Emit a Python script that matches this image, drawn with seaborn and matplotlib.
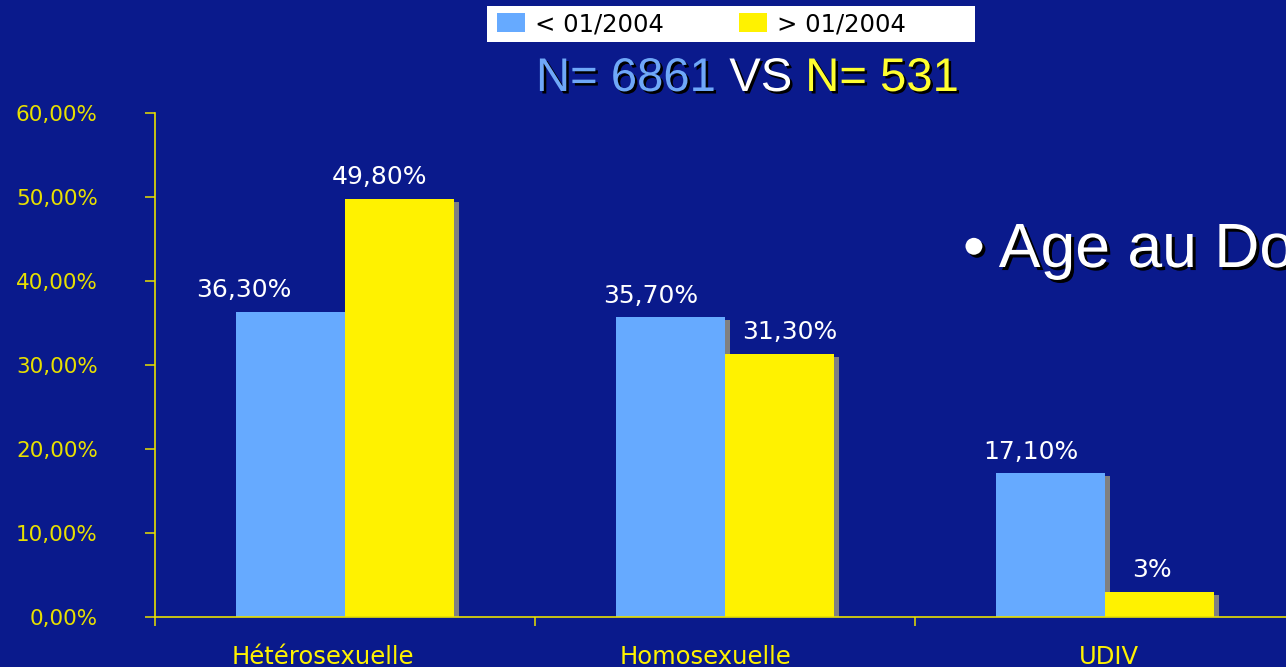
import matplotlib
matplotlib.use("Agg")
import matplotlib.pyplot as plt
import matplotlib.patheffects as pe
import matplotlib.transforms as mtransforms
from matplotlib.patches import Patch, Rectangle
from matplotlib.ticker import FixedLocator, FuncFormatter
import seaborn as sns
import pandas as pd

# Data
categories = ["Hétérosexuelle", "Homosexuelle", "UDIV"]
periods = ["< 01/2004", "> 01/2004"]
before_2004 = [36.3, 35.7, 17.1]
after_2004 = [49.8, 31.3, 3.0]
before_labels = ["36,30%", "35,70%", "17,10%"]
after_labels = ["49,80%", "31,30%", "3%"]
y_ticks = [0, 10, 20, 30, 40, 50, 60]

# Style
BG = "#0a1a8c"
BLUE = "#66aaff"
YELLOW = "#fff200"
AXIS_YELLOW = "#e8e000"
SHADOW = "#808080"

df = pd.DataFrame({
    "categorie": categories * 2,
    "periode": [periods[0]] * 3 + [periods[1]] * 3,
    "valeur": before_2004 + after_2004,
})

sns.set_theme(style="white")
plt.rcParams["font.family"] = ["DejaVu Sans"]

W, H = 1286, 667
fig = plt.figure(figsize=(W / 100, H / 100), dpi=100, facecolor=BG)
ax = fig.add_axes([155 / W, 50 / H, 1140 / W, 504 / H])
ax.set_facecolor(BG)

sns.barplot(data=df, x="categorie", y="valeur", hue="periode",
            order=categories, hue_order=periods,
            palette=[BLUE, YELLOW], saturation=1, width=0.574, gap=0,
            legend=False, ax=ax, linewidth=0)

# Drop shadow behind each bar
for p in ax.patches:
    p.set_path_effects([pe.SimplePatchShadow(offset=(3.6, -2.2),
                                             shadow_rgbFace=SHADOW, alpha=1),
                        pe.Normal()])

ax.set_xlim(-0.5, 2.5)
ax.set_ylim(0, 60)
ax.set_xlabel("")
ax.set_ylabel("")

# Axes, ticks
for side in ["top", "right"]:
    ax.spines[side].set_visible(False)
for side in ["left", "bottom"]:
    ax.spines[side].set_color(AXIS_YELLOW)
    ax.spines[side].set_linewidth(1.2)

ax.yaxis.set_major_locator(FixedLocator(y_ticks))
ax.yaxis.set_major_formatter(FuncFormatter(lambda v, _: f"{v:.2f}".replace(".", ",") + "%"))
ax.tick_params(axis="y", which="major", length=7.2, width=1.1, color=AXIS_YELLOW,
               labelcolor=AXIS_YELLOW, labelsize=15.5, pad=34, left=True)

ax.set_xticks(range(len(categories)))
ax.set_xticklabels(categories)
ax.tick_params(axis="x", which="major", length=0, labelcolor=YELLOW,
               labelsize=17.5, pad=20)
ax.xaxis.set_minor_locator(FixedLocator([-0.5, 0.5, 1.5, 2.5]))
ax.tick_params(axis="x", which="minor", length=6.5, width=1.1,
               color=AXIS_YELLOW, bottom=True)

# Slight horizontal shifts of the category labels
label_shift_px = [-22, -19, 4]
for lbl, dx in zip(ax.get_xticklabels(), label_shift_px):
    lbl.set_transform(lbl.get_transform() +
                      mtransforms.ScaledTranslation(dx / 100, 0, fig.dpi_scale_trans))

# Value labels above the bars
nudges_px = [[-47, -20, -20], [-20, 10, -8]]
n = len(categories)
for h, labels in enumerate([before_labels, after_labels]):
    for i, txt in enumerate(labels):
        bar = ax.patches[h * n + i]
        cx = bar.get_x() + bar.get_width() / 2
        ax.annotate(txt, xy=(cx, bar.get_height()),
                    xytext=(nudges_px[h][i] * 0.72, 10.5), textcoords="offset points",
                    ha="center", va="baseline", color="white", fontsize=18)

# Legend in a white box at the top
fig.patches.append(Rectangle((487 / W, 1 - 42 / H), 488 / W, 36 / H,
                             transform=fig.transFigure, facecolor="white",
                             edgecolor="none", zorder=0))
handles = [Patch(facecolor=BLUE, edgecolor="none"),
           Patch(facecolor=YELLOW, edgecolor="none")]
fig.legend(handles, periods, loc="center left", ncol=2,
           bbox_to_anchor=(497 / W, 1 - 24 / H), bbox_transform=fig.transFigure,
           frameon=False, borderaxespad=0, borderpad=0,
           fontsize=17.5, handlelength=1.15, handleheight=0.82,
           handletextpad=0.41, columnspacing=3.1, labelcolor="black")

# Headline with coloured counts
shadow = [pe.SimplePatchShadow(offset=(1.8, -1.8), shadow_rgbFace="black", alpha=1),
          pe.Normal()]
title_font = dict(family="Liberation Sans", fontsize=34, va="bottom")
t1 = fig.text(536 / W, 1 - 101 / H, "N= 6861", color="#6fa8f8",
              path_effects=shadow, **title_font)
t2 = fig.text(0, 0, " VS ", color="white", path_effects=shadow, **title_font)
t3 = fig.text(0, 0, "N= 531", color="#ffff30", path_effects=shadow, **title_font)
fig.canvas.draw()
r = fig.canvas.get_renderer()
bb1 = t1.get_window_extent(r)
t2.set_position((bb1.x1 / W, bb1.y0 / H))
bb2 = t2.get_window_extent(r)
t3.set_position((bb2.x1 / W, bb2.y0 / H))

# Side bullet text
fig.text(963 / W, 1 - 267 / H, "• Age au Do", color="white",
         family="Liberation Sans", fontsize=45, va="baseline",
         path_effects=[pe.SimplePatchShadow(offset=(2.2, -2.2),
                                            shadow_rgbFace="black", alpha=1),
                       pe.Normal()])

fig.savefig("out.png", dpi=100, facecolor=BG)
